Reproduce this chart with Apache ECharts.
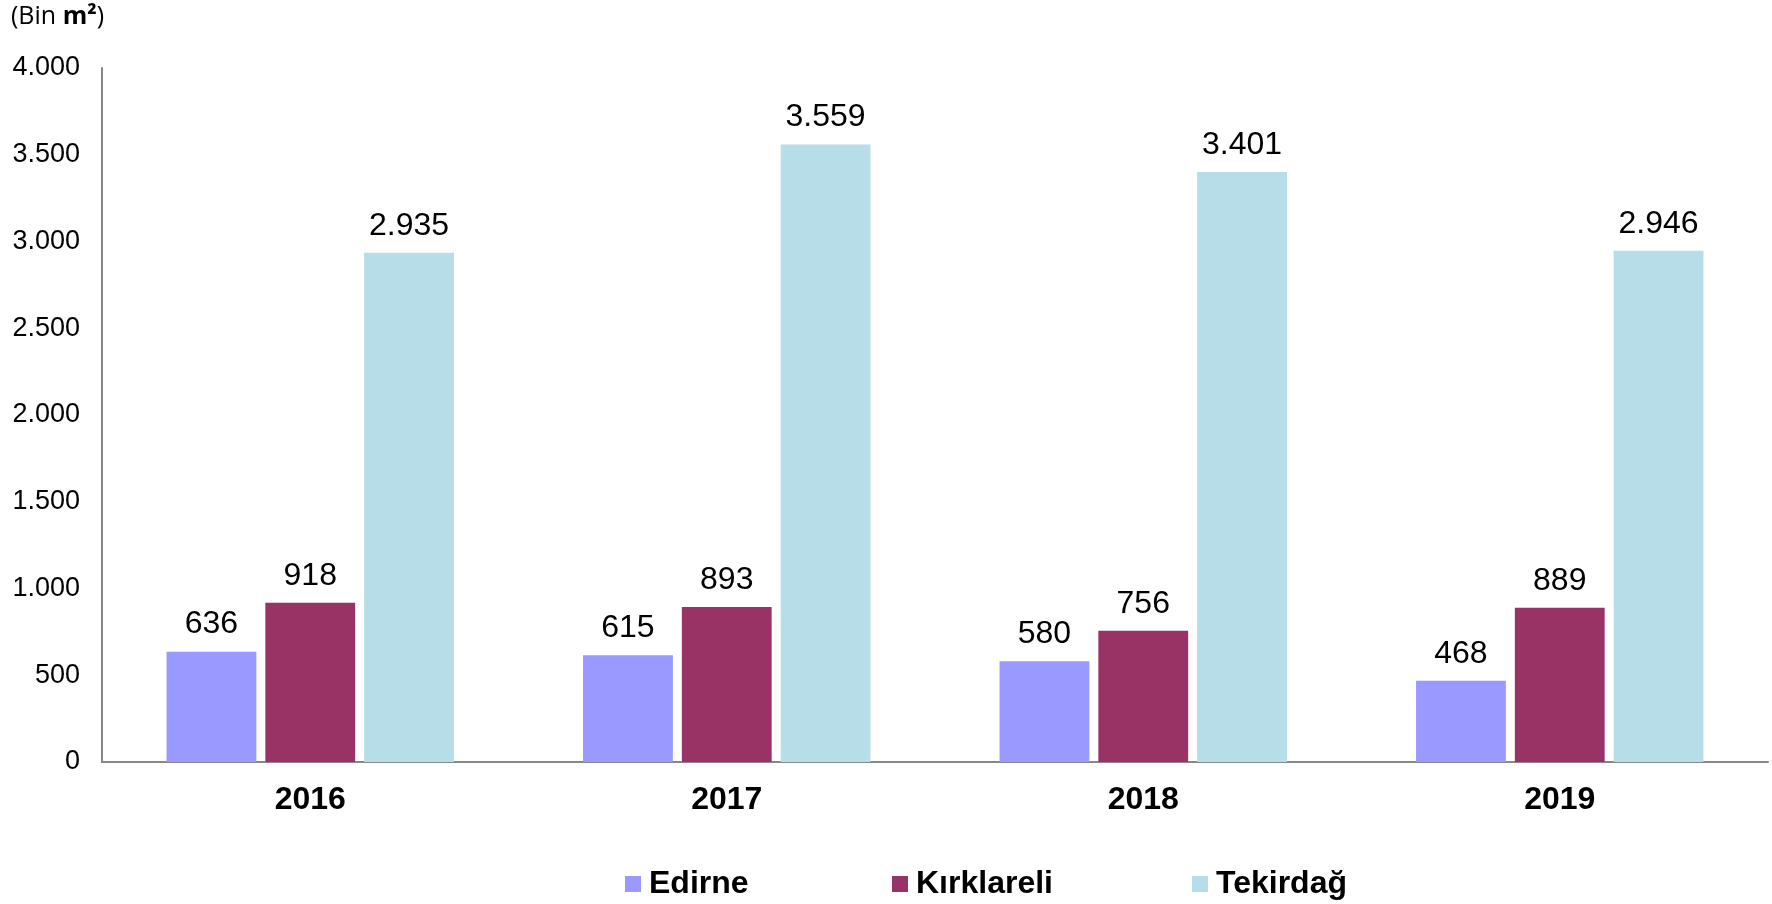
<!DOCTYPE html>
<html>
<head>
<meta charset="utf-8">
<script src="https://cdn.jsdelivr.net/npm/echarts@6/dist/echarts.min.js"></script>
<style>
  html, body { margin: 0; padding: 0; background: #fff; }
  #chart { width: 1772px; height: 904px; }
</style>
</head>
<body>
<div id="chart"></div>
<script>
// Yearly area values (thousand m²) per province
const years = ['2016', '2017', '2018', '2019'];
const edirne = [636, 615, 580, 468];
const kirklareli = [918, 893, 756, 889];
const tekirdag = [2935, 3559, 3401, 2946];
const seriesNames = ['Edirne', 'Kırklareli', 'Tekirdağ'];
const seriesColors = ['#9999FF', '#993366', '#B7DEE8'];
const yTicks = [0, 500, 1000, 1500, 2000, 2500, 3000, 3500, 4000];

const FONT = '"Liberation Sans", Arial, sans-serif';
const UNIT_FONT = '"Open Sans", "Liberation Sans", sans-serif';

// Turkish style thousands separator
function fmt(v) {
  return String(v).replace(/\B(?=(\d{3})+(?!\d))/g, '.');
}

const chart = echarts.init(document.getElementById('chart'), null, { renderer: 'canvas' });

const values = [edirne, kirklareli, tekirdag];

const option = {
  backgroundColor: '#fff',
  animation: false,
  textStyle: { fontFamily: FONT },
  // unit caption in the top-left corner
  graphic: [{
    type: 'text',
    left: 11,
    top: 4,
    style: {
      text: '{n|(Bin }{b|m²}{n|)}',
      rich: {
        n: { fontSize: 25, fill: '#000', fontWeight: 'normal', fontFamily: UNIT_FONT },
        b: { fontSize: 25, fill: '#000', fontWeight: 'bold', fontFamily: UNIT_FONT }
      }
    }
  }],
  legend: [0, 1, 2].map((i) => ({
    data: [seriesNames[i]],
    left: [625, 892, 1192][i],
    top: 868,
    padding: 0,
    itemWidth: 16,
    itemHeight: 16,
    itemGap: 0,
    icon: 'rect',
    textStyle: { fontSize: 32, fontWeight: 'bold', color: '#000', fontFamily: FONT, padding: [0, 0, 0, 3] }
  })),
  grid: { left: 102, right: 4, top: 68, bottom: 142, containLabel: false },
  xAxis: {
    type: 'category',
    data: years,
    axisLine: { lineStyle: { color: '#888', width: 2 } },
    axisTick: { show: false },
    axisLabel: { fontSize: 32, fontWeight: 'bold', color: '#000', margin: 22, fontFamily: FONT }
  },
  yAxis: {
    type: 'value',
    min: yTicks[0],
    max: yTicks[yTicks.length - 1],
    interval: yTicks[1] - yTicks[0],
    axisLine: { show: true, lineStyle: { color: '#888', width: 2 } },
    axisTick: { show: false },
    splitLine: { show: false },
    axisLabel: { fontSize: 27, color: '#000', margin: 22, fontFamily: FONT, formatter: (v) => fmt(v) }
  },
  series: seriesNames.map((name, i) => ({
    name: name,
    type: 'bar',
    data: values[i],
    barCategoryGap: '31%',
    barGap: '10%',
    itemStyle: { color: seriesColors[i] },
    label: {
      show: true,
      position: 'top',
      distance: 11,
      fontSize: 32,
      color: '#000',
      fontFamily: FONT,
      formatter: (p) => fmt(p.value)
    }
  }))
};

chart.setOption(option);
</script>
</body>
</html>
